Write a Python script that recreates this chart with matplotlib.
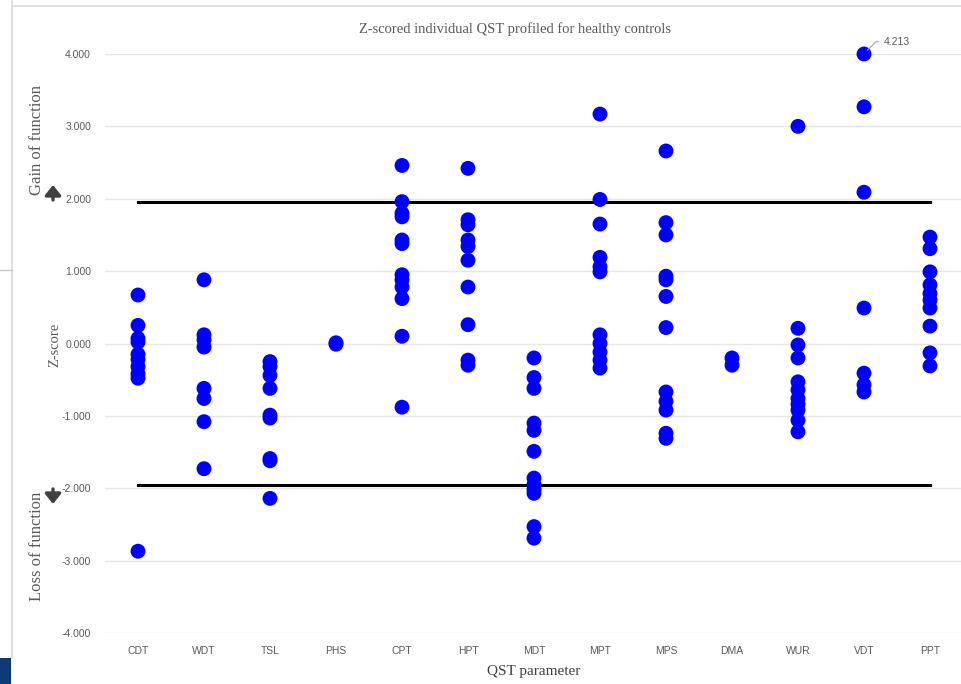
import matplotlib
matplotlib.use("Agg")
import matplotlib.pyplot as plt
import numpy as np
from matplotlib.patches import Rectangle, FancyArrowPatch
from matplotlib.lines import Line2D

categories = ["CDT", "WDT", "TSL", "PHS", "CPT", "HPT", "MDT", "MPT", "MPS", "DMA", "WUR", "VDT", "PPT"]

cdt = [0.67, 0.25, 0.07, 0.02, -0.15, -0.22, -0.32, -0.42, -0.48, -2.87]
wdt = [0.88, 0.12, 0.05, -0.05, -0.62, -0.76, -1.08, -1.73]
tsl = [-0.25, -0.32, -0.44, -0.62, -0.99, -1.03, -1.59, -1.62, -2.14]
phs = [0.01, -0.01]
cpt = [2.46, 1.96, 1.80, 1.75, 1.43, 1.38, 0.95, 0.88, 0.78, 0.62, 0.10, -0.88]
hpt = [2.42, 1.71, 1.64, 1.43, 1.34, 1.15, 0.78, 0.26, -0.23, -0.30]
mdt = [-0.20, -0.47, -0.62, -1.10, -1.20, -1.49, -1.86, -1.95, -2.02, -2.07, -2.53, -2.69]
mpt = [3.17, 1.99, 1.65, 1.19, 1.06, 0.99, 0.12, 0.00, -0.12, -0.23, -0.34]
mps = [2.66, 1.67, 1.50, 0.93, 0.88, 0.65, 0.22, -0.67, -0.80, -0.92, -1.24, -1.31]
dma = [-0.20, -0.30]
wur = [3.00, 0.21, -0.02, -0.20, -0.53, -0.64, -0.76, -0.84, -0.92, -1.06, -1.22]
vdt = [4.213, 3.27, 2.09, 0.49, -0.41, -0.57, -0.67]
ppt = [1.47, 1.31, 0.99, 0.81, 0.69, 0.60, 0.49, 0.24, -0.13, -0.31]

series = [cdt, wdt, tsl, phs, cpt, hpt, mdt, mpt, mps, dma, wur, vdt, ppt]
threshold = 1.96
y_ticks = [-4, -3, -2, -1, 0, 1, 2, 3, 4]
y_min, y_max = -4.0, 4.0

W, H = 961, 684
fig = plt.figure(figsize=(W / 100, H / 100), dpi=100)
fig.patch.set_facecolor("white")

# frame decorations
fig.add_artist(Line2D([12 / W, 12 / W], [26 / H, 1], color="#d9d9d9", lw=1.2))
fig.add_artist(Line2D([12 / W, 1], [1 - 6 / H, 1 - 6 / H], color="#d9d9d9", lw=1.2))
fig.add_artist(Line2D([0, 12 / W], [1 - 270 / H, 1 - 270 / H], color="#c8c8c8", lw=1.0))
fig.add_artist(Rectangle((0, 0), 11 / W, 26 / H, transform=fig.transFigure, color="#0b3a75", lw=0))

ax = fig.add_axes([105 / W, 51 / H, 858 / W, 579 / H])
ax.set_facecolor("none")
ax.set_xlim(-0.5, len(categories) - 0.5)
ax.set_ylim(y_min, y_max)
for s in ax.spines.values():
    s.set_visible(False)
ax.set_yticks(y_ticks)
ax.set_yticklabels([f"{v:.3f}" for v in y_ticks])
ax.set_xticks(range(len(categories)))
ax.set_xticklabels(categories)
ax.tick_params(axis="both", length=0, colors="#595959", labelsize=7.5)
ax.tick_params(axis="y", pad=10)
ax.tick_params(axis="x", pad=9)
for lab in ax.get_xticklabels() + ax.get_yticklabels():
    lab.set_fontfamily("Liberation Sans")
ax.grid(axis="y", color="#e6e6e6", lw=1.0)
ax.set_axisbelow(True)

for i, vals in enumerate(series):
    v = np.clip(np.array(vals), y_min, y_max)
    ax.scatter(np.full(len(v), i), v, s=115, color="#0000ff", zorder=3, edgecolors="none", clip_on=False)

ax.plot([0, len(categories) - 1], [threshold, threshold], color="black", lw=2.2, zorder=2)
ax.plot([0, len(categories) - 1], [-threshold, -threshold], color="black", lw=2.2, zorder=2)

# data label for clipped VDT max
vi = categories.index("VDT")
vmax = max(vdt)
ax.annotate(f"{vmax:.3f}", xy=(vi + 0.05, y_max + 0.05), xytext=(vi + 0.3, y_max + 0.17),
            fontsize=7.5, color="#595959", family="Liberation Sans", va="center", ha="left",
            annotation_clip=False,
            arrowprops=dict(arrowstyle="-", color="#a6a6a6", lw=0.8,
                            connectionstyle="angle,angleA=0,angleB=45,rad=0", shrinkA=2, shrinkB=0))

serif = "Liberation Serif"
fig.text(515 / W, 1 - 29 / H, "Z-scored individual QST profiled for healthy controls",
         ha="center", va="center", fontsize=10.5, color="#595959", family=serif)
fig.text(534 / W, 1 - 672 / H, "QST parameter", ha="center", va="center",
         fontsize=11, color="#404040", family=serif)
fig.text(55 / W, 1 - 345 / H, "Z-score", ha="center", va="center", rotation=90,
         fontsize=10.5, color="#595959", family=serif)
fig.text(37 / W, 1 - 140 / H, "Gain of function", ha="center", va="center", rotation=90,
         fontsize=12, color="#595959", family=serif)
fig.text(37 / W, 1 - 546 / H, "Loss of function", ha="center", va="center", rotation=90,
         fontsize=12, color="#595959", family=serif)

arrow_kw = dict(arrowstyle="-|>,head_length=0.5,head_width=0.4", color="#404040", lw=2.4,
                shrinkA=0, shrinkB=0, mutation_scale=12)
fig.add_artist(FancyArrowPatch((53 / W, 1 - 200 / H), (53 / W, 1 - 185 / H),
                               transform=fig.transFigure, **arrow_kw))
fig.add_artist(FancyArrowPatch((53 / W, 1 - 489 / H), (53 / W, 1 - 504 / H),
                               transform=fig.transFigure, **arrow_kw))

fig.savefig("out.png", dpi=100)
